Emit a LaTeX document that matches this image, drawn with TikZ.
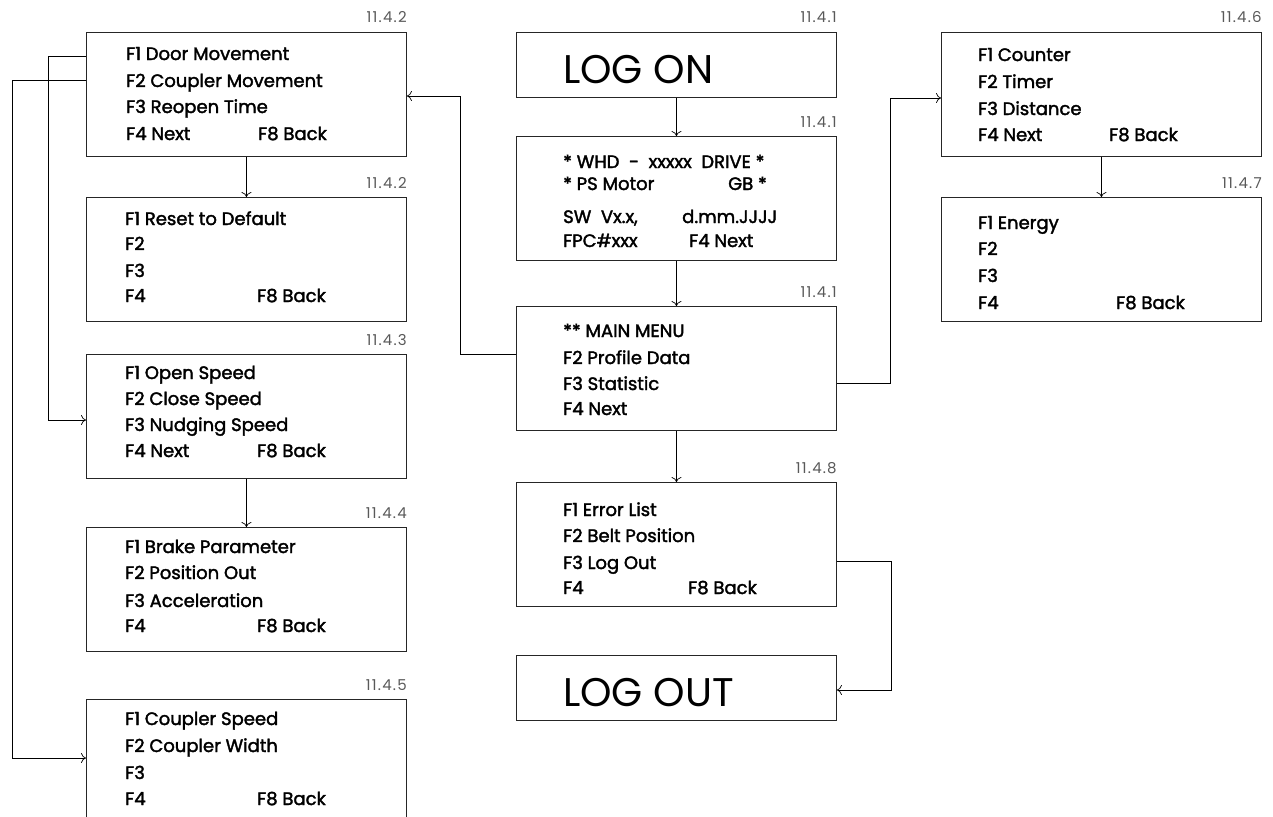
\documentclass[tikz,border=0pt]{standalone}
\usepackage{fontspec}
\setmainfont{Poppins}
\newfontfamily\medfont{Poppins}[FakeBold=2]
\usetikzlibrary{arrows.meta}
\tikzset{
  box/.style={draw=black!85, line width=0.9pt, anchor=north west, minimum width=320pt, minimum height=124pt, inner sep=0pt},
  sbox/.style={draw=black!85, line width=0.9pt, anchor=north west, minimum width=320pt, minimum height=65pt, inner sep=0pt},
  txt/.style={anchor=base west, inner sep=0pt, font=\medfont\fontsize{18}{18}\selectfont},
  big/.style={anchor=base west, inner sep=0pt, font=\fontsize{40}{40}\selectfont},
  lbl/.style={anchor=base east, inner sep=0pt, text=black!65, font=\fontsize{15}{15}\selectfont\addfontfeature{LetterSpace=8}},
  conn/.style={draw=black, line width=0.7pt, -{To[length=5pt,width=10pt]}},
}
\begin{document}
\begin{tikzpicture}[x=1pt,y=-1pt]
\useasboundingbox (0,0) rectangle (1273,816);
% boxes
\node[box] (A) at (86,32) {};
\node[box] (B) at (86,197) {};
\node[box] (C) at (86,354) {};
\node[box] (D) at (86,527) {};
\node[box] (E) at (86,699) {};
\node[sbox] (LON) at (516,32) {};
\node[box] (W) at (516,136) {};
\node[box] (M) at (516,306) {};
\node[box] (R) at (516,482) {};
\node[sbox] (LOUT) at (516,655) {};
\node[box] (F) at (941,32) {};
\node[box] (G) at (941,197) {};
% labels
\foreach \b/\t in {A/11.4.2,B/11.4.2,C/11.4.3,D/11.4.4,E/11.4.5,LON/11.4.1,W/11.4.1,M/11.4.1,R/11.4.8,F/11.4.6,G/11.4.7}
  \node[lbl] (L\b) at ([yshift=9pt]\b.north east) {\t};
% box A
\node[txt] (a1) at (126,60) {F1 Door Movement};
\node[txt] (a2) at (126,87) {F2 Coupler Movement};
\node[txt] (a3) at (126,113) {F3 Reopen Time};
\node[txt] (a4) at (126,140) {F4 Next};
\node[txt] (a5) at (258,140) {F8 Back};
% box B
\node[txt] (b1) at (125,225) {F1 Reset to Default};
\node[txt] (b2) at (125,250) {F2};
\node[txt] (b3) at (125,277) {F3};
\node[txt] (b4) at (125,302) {F4};
\node[txt] (b5) at (257,302) {F8 Back};
% box C
\node[txt] (c1) at (125,379) {F1 Open Speed};
\node[txt] (c2) at (125,405) {F2 Close Speed};
\node[txt] (c3) at (125,431) {F3 Nudging Speed};
\node[txt] (c4) at (125,457) {F4 Next};
\node[txt] (c5) at (257,457) {F8 Back};
% box D
\node[txt] (d1) at (125,553) {F1 Brake Parameter};
\node[txt] (d2) at (125,579) {F2 Position Out};
\node[txt] (d3) at (125,607) {F3 Acceleration};
\node[txt] (d4) at (125,632) {F4};
\node[txt] (d5) at (257,632) {F8 Back};
% box E
\node[txt] (e1) at (125,725) {F1 Coupler Speed};
\node[txt] (e2) at (125,752) {F2 Coupler Width};
\node[txt] (e3) at (125,779) {F3};
\node[txt] (e4) at (125,805) {F4};
\node[txt] (e5) at (257,805) {F8 Back};
% middle
\node[big] (lon) at (563,83) {LOG ON};
\node[txt] (w1) at (563,168) {* WHD\ \ -\ \ xxxxx\ \ DRIVE *};
\node[txt] (w2) at (563,190) {* PS Motor};
\node[txt, anchor=base east] (w2b) at (767,190) {GB *};
\node[txt] (w3) at (563,223) {SW\ \ Vx.x,};
\node[txt] (w3b) at (682,223) {d.mm.JJJJ};
\node[txt] (w4) at (563,247) {FPC\#xxx};
\node[txt] (w4b) at (689,247) {F4 Next};
\node[txt] (m1) at (563,337) {** MAIN MENU};
\node[txt] (m2) at (563,364) {F2 Profile Data};
\node[txt] (m3) at (563,390) {F3 Statistic};
\node[txt] (m4) at (563,415) {F4 Next};
\node[txt] (r1) at (563,516) {F1 Error List};
\node[txt] (r2) at (563,542) {F2 Belt Position};
\node[txt] (r3) at (563,569) {F3 Log Out};
\node[txt] (r4) at (563,594) {F4};
\node[txt] (r5) at (688,594) {F8 Back};
\node[big] (lout) at (563,706) {LOG OUT};
% right
\node[txt] (f1) at (978,61) {F1 Counter};
\node[txt] (f2) at (978,88) {F2 Timer};
\node[txt] (f3) at (978,115) {F3 Distance};
\node[txt] (f4) at (978,141) {F4 Next};
\node[txt] (f5) at (1109,141) {F8 Back};
\node[txt] (g1) at (978,229) {F1 Energy};
\node[txt] (g2) at (978,255) {F2};
\node[txt] (g3) at (978,282) {F3};
\node[txt] (g4) at (978,309) {F4};
\node[txt] (g5) at (1116,309) {F8 Back};
% connectors
\draw[conn] (A.south) -- (B.north);
\draw[conn] (C.south) -- (D.north);
\draw[conn] (LON.south) -- (W.north);
\draw[conn] (W.south) -- (M.north);
\draw[conn] (M.south) -- (R.north);
\draw[conn] (F.south) -- (G.north);
\draw[conn] (A.west |- 0,56) -- (48,56) |- (C.west |- 0,420);
\draw[conn] (A.west |- 0,80) -- (12,80) |- (E.west |- 0,758);
\draw[conn] (M.west |- 0,354) -- (460,354) |- (A.east |- 0,96);
\draw[conn] (M.east |- 0,383) -- (890,383) |- (F.west |- 0,98);
\draw[conn] (R.east |- 0,561) -- (891,561) |- (LOUT.east |- 0,690);
\end{tikzpicture}
\end{document}
